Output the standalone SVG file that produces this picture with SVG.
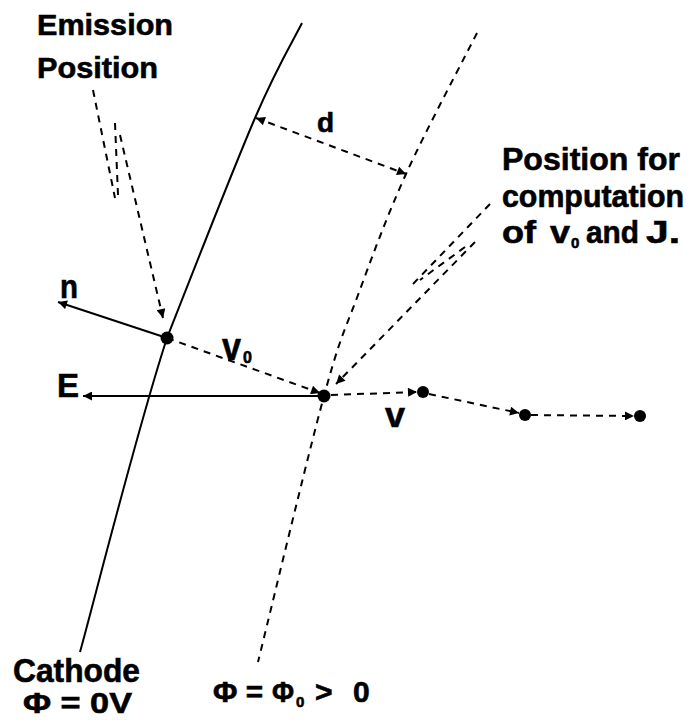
<svg xmlns="http://www.w3.org/2000/svg" width="689" height="720" viewBox="0 0 689 720">
<style>
  .t { font-family: "Liberation Sans", Arial, sans-serif; font-weight: bold; fill: #000; stroke: #000; stroke-width: 0.6; }
  .solid { fill: none; stroke: #000; stroke-width: 2; }
  .dash { fill: none; stroke: #000; stroke-width: 2; stroke-dasharray: 7 6; }
  .dot { fill: #000; }
</style>
<defs>
  <marker id="ah" viewBox="0 0 10 10" refX="10" refY="5" markerWidth="11" markerHeight="9" markerUnits="userSpaceOnUse" orient="auto">
    <path d="M0,0 L10,5 L0,10 Z" fill="#000"/>
  </marker>
  <marker id="ahs" viewBox="0 0 10 10" refX="0" refY="5" markerWidth="11" markerHeight="9" markerUnits="userSpaceOnUse" orient="auto">
    <path d="M10,0 L0,5 L10,10 Z" fill="#000"/>
  </marker>
</defs>
<rect width="689" height="720" fill="#fff"/>

<g id="cathode">
  <path class="solid" d="M302,23 C294.2,38.8 277.5,65.5 255,118 C232.5,170.5 185.3,291.3 167,338 C137.8,427 94.5,599.7 80,652"/>
  <text class="t" x="13" y="682" font-size="34" textLength="127" lengthAdjust="spacingAndGlyphs">Cathode</text>
  <text class="t" x="23" y="713" font-size="30" textLength="109" lengthAdjust="spacingAndGlyphs">Φ = 0V</text>
</g>

<g id="equipotential">
  <path class="dash" d="M477,33 C465.2,56.5 425.8,130.3 406,174 C386.2,217.7 371.7,258 358,295 C344.3,332 340.7,334.8 324,396 C307.3,457.2 269,617.7 258,662"/>
  <text class="t" y="702" font-size="30"><tspan x="213" textLength="50" lengthAdjust="spacingAndGlyphs">Φ =</tspan><tspan x="272" textLength="22" lengthAdjust="spacingAndGlyphs">Φ</tspan><tspan x="296" y="707" font-size="15">0</tspan><tspan x="315" y="702">&gt;</tspan><tspan x="353">0</tspan></text>
</g>

<g id="emission-label">
  <text class="t" x="37" y="35" font-size="30" textLength="136" lengthAdjust="spacingAndGlyphs">Emission</text>
  <text class="t" x="37" y="78" font-size="30" textLength="121" lengthAdjust="spacingAndGlyphs">Position</text>
</g>

<g id="computation-label">
  <text class="t" x="502" y="170" font-size="32" textLength="178" lengthAdjust="spacingAndGlyphs">Position for</text>
  <text class="t" x="502" y="207" font-size="30" textLength="182" lengthAdjust="spacingAndGlyphs" transform="translate(502 207) scale(1 1.07) translate(-502 -207)">computation</text>
  <text class="t" y="243" font-size="32"><tspan x="502" textLength="34" lengthAdjust="spacingAndGlyphs">of</tspan><tspan x="550" textLength="20" lengthAdjust="spacingAndGlyphs">v</tspan><tspan x="571" y="248" font-size="15">0</tspan><tspan x="586" y="243" textLength="53" lengthAdjust="spacingAndGlyphs">and</tspan><tspan x="646" textLength="34" lengthAdjust="spacingAndGlyphs">J.</tspan></text>
</g>

<g id="emission-point">
  <circle class="dot" cx="167" cy="338" r="6.5"/>
</g>
<g id="computation-point">
  <circle class="dot" cx="324" cy="396" r="6.5"/>
</g>
<g id="p2"><circle class="dot" cx="423" cy="392" r="6"/></g>
<g id="p3"><circle class="dot" cx="525" cy="415" r="6"/></g>
<g id="p4"><circle class="dot" cx="640" cy="416" r="6"/></g>

<g id="connectors">
  <line class="solid" x1="167" y1="338" x2="58" y2="302" marker-end="url(#ah)"/>
  <text class="t" x="60" y="298" font-size="33" textLength="18" lengthAdjust="spacingAndGlyphs">n</text>
  <line class="solid" x1="318" y1="396" x2="83" y2="396" marker-end="url(#ah)"/>
  <text class="t" x="57" y="397" font-size="33">E</text>
  <line class="dash" x1="167" y1="338" x2="320" y2="393" marker-end="url(#ah)"/>
  <text class="t" x="222" y="360" font-size="38" textLength="19" lengthAdjust="spacingAndGlyphs">v</text>
  <text class="t" x="243" y="363" font-size="16">0</text>
  <line class="dash" x1="256" y1="118" x2="406" y2="174" marker-start="url(#ahs)" marker-end="url(#ah)"/>
  <text class="t" x="317" y="132" font-size="28">d</text>
  <line class="dash" x1="120" y1="135" x2="163" y2="318" marker-end="url(#ah)"/>
  <line class="dash" x1="93" y1="90" x2="115" y2="198"/>
  <line class="dash" x1="115" y1="123" x2="118" y2="195"/>
  <line class="dash" x1="475" y1="242" x2="336" y2="384" marker-end="url(#ah)"/>
  <line class="dash" x1="490" y1="204" x2="413" y2="284"/>
  <line class="dash" x1="465" y1="247" x2="420" y2="280"/>
  <line class="dash" x1="331" y1="395" x2="417" y2="392" marker-end="url(#ah)"/>
  <line class="dash" x1="429" y1="394" x2="519" y2="413" marker-end="url(#ah)"/>
  <line class="dash" x1="531" y1="415" x2="634" y2="416" marker-end="url(#ah)"/>
  <text class="t" x="385" y="427" font-size="35" textLength="20" lengthAdjust="spacingAndGlyphs">v</text>
</g>
</svg>
